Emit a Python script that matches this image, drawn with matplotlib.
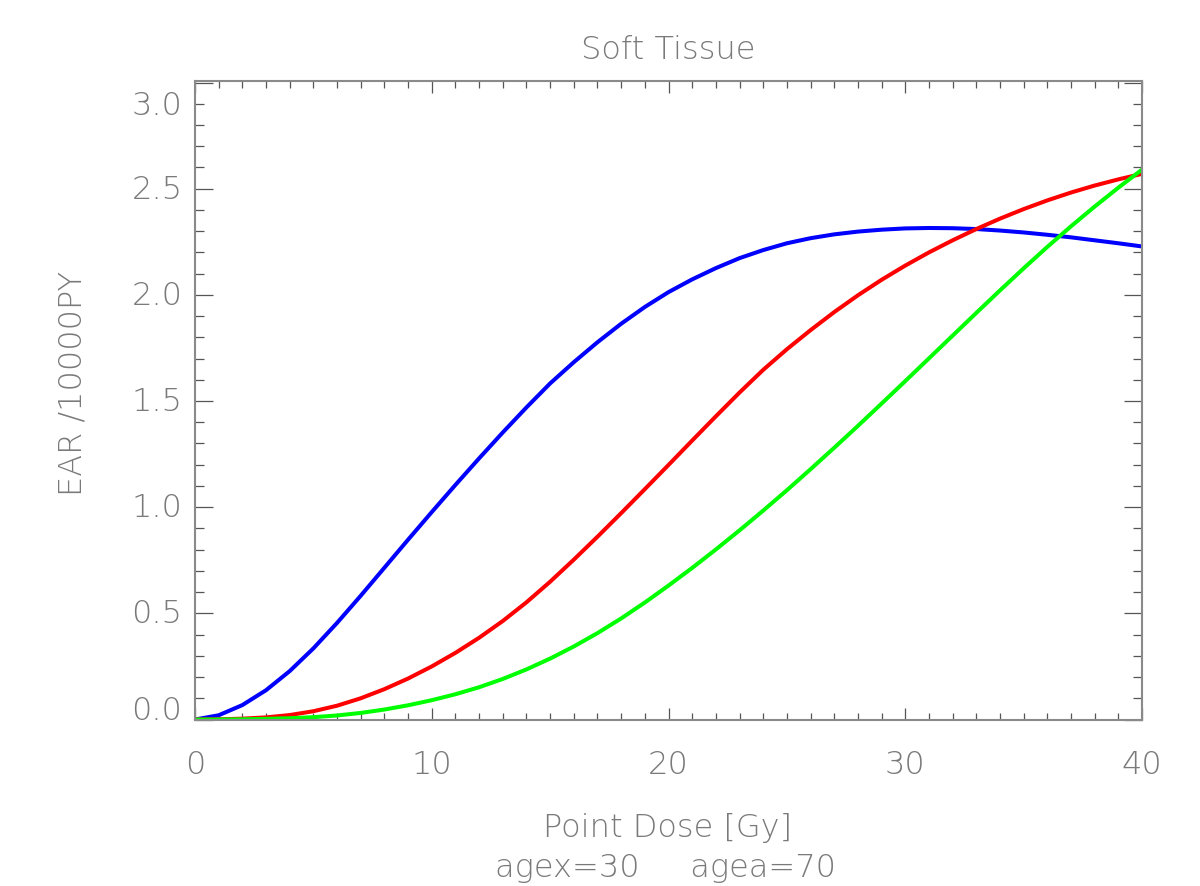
import matplotlib
matplotlib.use("Agg")
import matplotlib.pyplot as plt
from matplotlib.ticker import MultipleLocator

# dose grid (Gy) and EAR curves
dose = list(range(0, 41))
ear_blue = [0.0, 0.02, 0.068, 0.138, 0.228, 0.335, 0.455, 0.583, 0.715, 0.847, 0.977,
            1.105, 1.23, 1.352, 1.47, 1.583, 1.683, 1.777, 1.864, 1.943, 2.013,
            2.073, 2.126, 2.173, 2.211, 2.243, 2.267, 2.285, 2.298, 2.307, 2.313,
            2.315, 2.314, 2.31, 2.303, 2.294, 2.283, 2.271, 2.257, 2.243, 2.228]
ear_red = [0.0, 0.001, 0.004, 0.010, 0.021, 0.039, 0.065, 0.100, 0.143, 0.193, 0.250,
           0.314, 0.385, 0.464, 0.552, 0.649, 0.753, 0.861, 0.972, 1.085, 1.199,
           1.314, 1.428, 1.540, 1.647, 1.744, 1.834, 1.919, 1.998, 2.071, 2.138,
           2.200, 2.257, 2.310, 2.359, 2.404, 2.445, 2.482, 2.515, 2.544, 2.570]
ear_green = [0.0, 0.0, 0.001, 0.003, 0.006, 0.011, 0.019, 0.031, 0.047, 0.067, 0.091,
             0.119, 0.152, 0.191, 0.236, 0.287, 0.344, 0.407, 0.476, 0.551, 0.631,
             0.714, 0.801, 0.891, 0.984, 1.080, 1.179, 1.280, 1.383, 1.488, 1.594,
             1.701, 1.808, 1.915, 2.021, 2.125, 2.226, 2.323, 2.416, 2.505, 2.590]

xticks = [0, 10, 20, 30, 40]
yticks = [0.0, 0.5, 1.0, 1.5, 2.0, 2.5, 3.0]
ylabels = ["0.0", "0.5", "1.0", "1.5", "2.0", "2.5", "3.0"]

txt = "#7a7a7a"
fam = ["DejaVu Sans"]
fs = 23

fig = plt.figure(figsize=(12, 8.87), dpi=100)
ax = fig.add_axes([0.1625, 0.1877, 0.9517 - 0.1625, 0.907 - 0.1877])

ax.plot(dose, ear_blue, color="#0000ff", lw=2.9, solid_joinstyle="round")
ax.plot(dose, ear_red, color="#ff0000", lw=2.9, solid_joinstyle="round")
ax.plot(dose, ear_green, color="#00ff00", lw=2.9, solid_joinstyle="round")

ax.set_xlim(0, 40)
ax.set_ylim(0, 3.005)

for s in ax.spines.values():
    s.set_color("#8a8a8a")
    s.set_linewidth(1.5)

ax.set_xticks(xticks)
ax.set_xticklabels([str(t) for t in xticks], fontsize=fs, color=txt, family=fam, fontweight="light")
ax.xaxis.set_minor_locator(MultipleLocator(1))
ax.tick_params(axis="x", which="major", direction="in", length=8.6, width=0.9,
               color="#555555", top=True, pad=21)
ax.tick_params(axis="x", which="minor", direction="in", length=4.8, width=0.9,
               color="#555555", top=True)

ax.set_yticks(yticks)
ax.set_yticklabels([])
ax.yaxis.set_minor_locator(MultipleLocator(0.1))
ax.tick_params(axis="y", which="major", direction="in", length=13, width=0.9,
               color="#555555", right=True)
ax.tick_params(axis="y", which="minor", direction="in", length=6.5, width=0.9,
               color="#555555", right=True)

# y tick labels by hand: the end labels sit inward like in the original
for v, lab in zip(yticks, ylabels):
    dy = 0
    if v == yticks[0]:
        dy = 7
    elif v == yticks[-1]:
        dy = -16
    ax.annotate(lab, xy=(0, v), xycoords=("axes fraction", "data"),
                xytext=(-9, dy), textcoords="offset points",
                ha="right", va="center", fontsize=fs, color=txt,
                family=fam, fontweight="light")

fig.text(0.5567, 0.9436, "Soft Tissue", ha="center", va="center",
         fontsize=fs, color=txt, family=fam, fontweight="light")
fig.text(0.0608, 0.5682, "EAR /10000PY", ha="center", va="center", rotation=90,
         fontsize=fs, color=txt, family=fam, fontweight="light")
fig.text(0.5567, 0.0665, "Point Dose [Gy]", ha="center", va="center",
         fontsize=fs, color=txt, family=fam, fontweight="light")
fig.text(0.5545, 0.0214, "agex=30     agea=70", ha="center", va="center",
         fontsize=fs, color=txt, family=fam, fontweight="light")

fig.savefig("out.png", dpi=100)
